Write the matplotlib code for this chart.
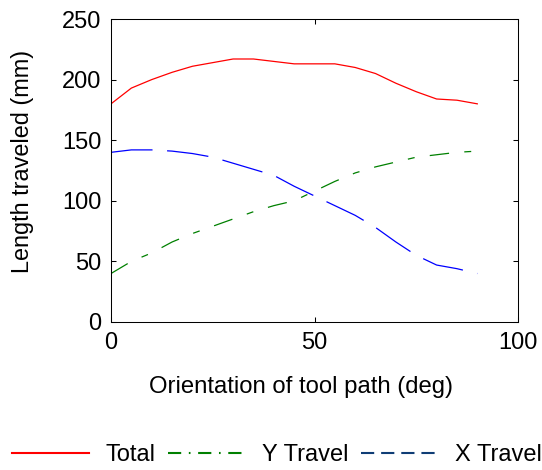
import matplotlib.pyplot as plt
from matplotlib.lines import Line2D

# ----- Data -----
angle = [0, 5, 10, 15, 20, 25, 30, 35, 40, 45, 50, 55, 60, 65, 70, 75, 80, 85, 90]
total = [180, 193, 200, 206, 211, 214, 217, 217, 215, 213, 213, 213, 210, 205, 197, 190, 184, 183, 180]
y_travel = [40, 50, 57, 66, 73, 79, 85, 91, 96, 100, 108, 116, 123, 128, 132, 136, 138, 140, 141]
x_travel = [140, 142, 142, 141, 139, 136, 131, 126, 121, 112, 104, 96, 88, 78, 66, 55, 47, 44, 40]

labels = ['Total', 'Y Travel', 'X Travel']

plt.rcParams['font.family'] = ['Liberation Sans', 'DejaVu Sans']
plt.rcParams['lines.scale_dashes'] = False

fig = plt.figure(figsize=(5.42, 4.70), dpi=100)
ax = fig.add_axes([111 / 542, 1 - 322 / 470, 407 / 542, 303 / 470])

ax.plot(angle, total, color='#ff0000', lw=0.9)
ax.plot(angle, y_travel, color='#008000', lw=0.9, ls=(0, (14, 11, 5, 11)))
ax.plot(angle, x_travel, color='#0000ff', lw=0.9, ls=(0, (30, 10.5)))

ax.set_xlim(0, 100)
ax.set_ylim(0, 250)
ax.set_xticks([0, 50, 100])
ax.set_yticks([0, 50, 100, 150, 200, 250])
ax.tick_params(direction='in', length=3.5, width=0.75, labelsize=17,
               top=True, right=True, pad=7)
for s in ax.spines.values():
    s.set_linewidth(0.75)

ax.set_xlabel('Orientation of tool path (deg)', fontsize=17.2)
ax.xaxis.set_label_coords(0.468, -0.177)
ax.set_ylabel('Length traveled (mm)', fontsize=16.9)
ax.yaxis.set_label_coords(-0.189, 0.53)

# legend handles drawn like the exported figure
handles = [
    Line2D([], [], color='#ff0000', lw=1.5),
    Line2D([], [], color='#008000', lw=1.5, ls=(0, (9.5, 5.5, 1.2, 5.5))),
    Line2D([], [], color='#0f3d75', lw=1.5, ls=(0, (9.5, 5))),
]
fig.legend(handles, labels, loc='center left', bbox_to_anchor=(12 / 542, 1 - 455 / 470),
           ncol=3, frameon=False, fontsize=17, borderpad=0, borderaxespad=0,
           handlelength=3.26, handletextpad=0.7, columnspacing=0.55)

fig.savefig('out.png', dpi=100)
